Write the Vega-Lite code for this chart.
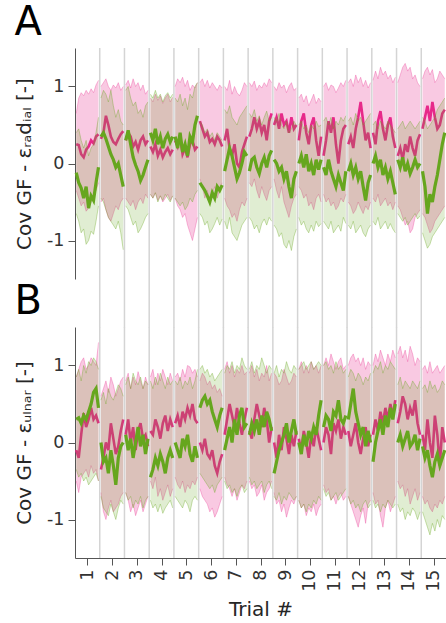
{
"$schema": "https://vega.github.io/schema/vega-lite/v6.json",
"padding": {"left": 14, "top": 3, "right": 0, "bottom": 0},
"config": {
  "font": "DejaVu Sans",
  "view": {"stroke": null},
  "axis": {"grid": false, "domainColor": "#555555", "tickColor": "#555555", "labelColor": "#333333", "titleColor": "#262626", "labelFontSize": 17.5, "titleFontSize": 20, "titleFontWeight": "normal", "tickSize": 7, "labelPadding": 4, "labelOverlap": false},
  "title": {"fontSize": 40, "fontWeight": "normal", "anchor": "start", "frame": "bounds", "color": "#000000", "offset": 0, "baseline": "alphabetic"}
},
"datasets": {
  "seps": [{"b":1.5},{"b":2.5},{"b":3.5},{"b":4.5},{"b":5.5},{"b":6.5},{"b":7.5},{"b":8.5},{"b":9.5},{"b":10.5},{"b":11.5},{"b":12.5},{"b":13.5},{"b":14.5}],
  "d": [
{"p":"A","t":1,"x":0.55,"pm":0.25,"pl":-0.35,"ph":0.65,"gm":-0.12,"gl":-0.65,"gh":0.4},
{"p":"A","t":1,"x":0.65,"pm":0.24,"pl":-0.45,"ph":0.85,"gm":-0.25,"gl":-0.75,"gh":0.45},
{"p":"A","t":1,"x":0.75,"pm":0.12,"pl":-0.55,"ph":0.92,"gm":-0.32,"gl":-0.9,"gh":0.3},
{"p":"A","t":1,"x":0.85,"pm":0.08,"pl":-0.5,"ph":0.88,"gm":-0.45,"gl":-0.85,"gh":0.2},
{"p":"A","t":1,"x":0.95,"pm":0.18,"pl":-0.62,"ph":0.95,"gm":-0.3,"gl":-1.05,"gh":0.3},
{"p":"A","t":1,"x":1.05,"pm":0.22,"pl":-0.58,"ph":0.9,"gm":-0.58,"gl":-1.0,"gh":0.1},
{"p":"A","t":1,"x":1.15,"pm":0.3,"pl":-0.5,"ph":0.97,"gm":-0.42,"gl":-0.88,"gh":0.2},
{"p":"A","t":1,"x":1.25,"pm":0.26,"pl":-0.42,"ph":0.92,"gm":-0.48,"gl":-0.92,"gh":0.25},
{"p":"A","t":1,"x":1.35,"pm":0.35,"pl":-0.35,"ph":1.02,"gm":-0.25,"gl":-0.75,"gh":0.4},
{"p":"A","t":1,"x":1.45,"pm":0.38,"pl":-0.25,"ph":1.08,"gm":-0.05,"gl":-0.55,"gh":0.6},
{"p":"A","t":2,"x":1.55,"pm":0.32,"pl":-0.5,"ph":1.0,"gm":0.35,"gl":-0.45,"gh":0.85},
{"p":"A","t":2,"x":1.65,"pm":0.4,"pl":-0.45,"ph":1.05,"gm":0.4,"gl":-0.5,"gh":0.95},
{"p":"A","t":2,"x":1.75,"pm":0.62,"pl":-0.6,"ph":1.1,"gm":0.32,"gl":-0.6,"gh":0.9},
{"p":"A","t":2,"x":1.85,"pm":0.5,"pl":-0.7,"ph":1.0,"gm":0.22,"gl":-0.7,"gh":0.8},
{"p":"A","t":2,"x":1.95,"pm":0.35,"pl":-0.75,"ph":0.95,"gm":0.12,"gl":-0.75,"gh":0.95},
{"p":"A","t":2,"x":2.05,"pm":0.28,"pl":-0.65,"ph":1.02,"gm":0.05,"gl":-0.8,"gh":0.75},
{"p":"A","t":2,"x":2.15,"pm":0.25,"pl":-0.55,"ph":0.98,"gm":-0.05,"gl":-0.85,"gh":0.6},
{"p":"A","t":2,"x":2.25,"pm":0.32,"pl":-0.6,"ph":1.05,"gm":0.0,"gl":-0.75,"gh":0.7},
{"p":"A","t":2,"x":2.35,"pm":0.38,"pl":-0.5,"ph":0.95,"gm":-0.15,"gl":-0.9,"gh":0.55},
{"p":"A","t":2,"x":2.45,"pm":0.42,"pl":-0.45,"ph":1.0,"gm":-0.3,"gl":-1.12,"gh":0.5},
{"p":"A","t":3,"x":2.55,"pm":0.3,"pl":-0.45,"ph":1.02,"gm":0.3,"gl":-0.55,"gh":0.95},
{"p":"A","t":3,"x":2.65,"pm":0.4,"pl":-0.5,"ph":1.08,"gm":0.43,"gl":-0.6,"gh":1.0},
{"p":"A","t":3,"x":2.75,"pm":0.35,"pl":-0.55,"ph":0.98,"gm":0.25,"gl":-0.7,"gh":0.85},
{"p":"A","t":3,"x":2.85,"pm":0.22,"pl":-0.48,"ph":1.1,"gm":0.08,"gl":-0.8,"gh":0.75},
{"p":"A","t":3,"x":2.95,"pm":0.28,"pl":-0.6,"ph":1.0,"gm":-0.02,"gl":-0.75,"gh":0.8},
{"p":"A","t":3,"x":3.05,"pm":0.18,"pl":-0.5,"ph":1.05,"gm":-0.1,"gl":-0.9,"gh":0.65},
{"p":"A","t":3,"x":3.15,"pm":0.3,"pl":-0.45,"ph":0.95,"gm":-0.22,"gl":-0.85,"gh":0.7},
{"p":"A","t":3,"x":3.25,"pm":0.35,"pl":-0.52,"ph":1.02,"gm":-0.15,"gl":-0.78,"gh":0.6},
{"p":"A","t":3,"x":3.35,"pm":0.25,"pl":-0.4,"ph":0.9,"gm":-0.05,"gl":-0.7,"gh":0.75},
{"p":"A","t":3,"x":3.45,"pm":0.3,"pl":-0.45,"ph":0.95,"gm":0.05,"gl":-0.65,"gh":0.8},
{"p":"A","t":4,"x":3.55,"pm":0.22,"pl":-0.4,"ph":0.85,"gm":0.4,"gl":-0.4,"gh":0.9},
{"p":"A","t":4,"x":3.65,"pm":0.15,"pl":-0.45,"ph":0.8,"gm":0.3,"gl":-0.45,"gh":0.85},
{"p":"A","t":4,"x":3.75,"pm":0.25,"pl":-0.38,"ph":0.9,"gm":0.45,"gl":-0.38,"gh":0.95},
{"p":"A","t":4,"x":3.85,"pm":0.1,"pl":-0.48,"ph":0.82,"gm":0.25,"gl":-0.5,"gh":0.85},
{"p":"A","t":4,"x":3.95,"pm":0.18,"pl":-0.42,"ph":0.88,"gm":0.35,"gl":-0.42,"gh":0.9},
{"p":"A","t":4,"x":4.05,"pm":0.08,"pl":-0.5,"ph":0.78,"gm":0.2,"gl":-0.48,"gh":0.8},
{"p":"A","t":4,"x":4.15,"pm":0.15,"pl":-0.45,"ph":0.85,"gm":0.32,"gl":-0.4,"gh":0.88},
{"p":"A","t":4,"x":4.25,"pm":0.2,"pl":-0.4,"ph":0.9,"gm":0.38,"gl":-0.45,"gh":0.92},
{"p":"A","t":4,"x":4.35,"pm":0.12,"pl":-0.48,"ph":0.8,"gm":0.28,"gl":-0.5,"gh":0.85},
{"p":"A","t":4,"x":4.45,"pm":0.18,"pl":-0.42,"ph":0.86,"gm":0.35,"gl":-0.42,"gh":0.9},
{"p":"A","t":5,"x":4.55,"pm":0.3,"pl":-0.45,"ph":1.0,"gm":0.35,"gl":-0.45,"gh":0.85},
{"p":"A","t":5,"x":4.65,"pm":0.22,"pl":-0.55,"ph":1.1,"gm":0.2,"gl":-0.5,"gh":0.8},
{"p":"A","t":5,"x":4.75,"pm":0.35,"pl":-0.6,"ph":1.05,"gm":0.4,"gl":-0.55,"gh":0.9},
{"p":"A","t":5,"x":4.85,"pm":0.12,"pl":-0.7,"ph":1.12,"gm":0.15,"gl":-0.5,"gh":0.75},
{"p":"A","t":5,"x":4.95,"pm":0.2,"pl":-0.65,"ph":1.0,"gm":0.25,"gl":-0.6,"gh":0.85},
{"p":"A","t":5,"x":5.05,"pm":0.08,"pl":-0.8,"ph":1.08,"gm":0.1,"gl":-0.55,"gh":0.7},
{"p":"A","t":5,"x":5.15,"pm":0.25,"pl":-0.9,"ph":0.95,"gm":0.35,"gl":-0.45,"gh":0.9},
{"p":"A","t":5,"x":5.25,"pm":0.3,"pl":-1.0,"ph":1.02,"gm":0.28,"gl":-0.5,"gh":0.85},
{"p":"A","t":5,"x":5.35,"pm":0.18,"pl":-0.85,"ph":0.98,"gm":0.5,"gl":-0.4,"gh":1.0},
{"p":"A","t":5,"x":5.45,"pm":0.22,"pl":-0.7,"ph":1.05,"gm":0.62,"gl":-0.35,"gh":1.05},
{"p":"A","t":6,"x":5.55,"pm":0.55,"pl":-0.2,"ph":1.05,"gm":-0.25,"gl":-0.65,"gh":0.55},
{"p":"A","t":6,"x":5.65,"pm":0.45,"pl":-0.3,"ph":1.1,"gm":-0.3,"gl":-0.7,"gh":0.5},
{"p":"A","t":6,"x":5.75,"pm":0.35,"pl":-0.45,"ph":1.0,"gm":-0.35,"gl":-0.8,"gh":0.4},
{"p":"A","t":6,"x":5.85,"pm":0.4,"pl":-0.35,"ph":1.08,"gm":-0.42,"gl":-0.75,"gh":0.45},
{"p":"A","t":6,"x":5.95,"pm":0.28,"pl":-0.5,"ph":0.98,"gm":-0.5,"gl":-0.9,"gh":0.35},
{"p":"A","t":6,"x":6.05,"pm":0.32,"pl":-0.4,"ph":1.05,"gm":-0.38,"gl":-0.85,"gh":0.4},
{"p":"A","t":6,"x":6.15,"pm":0.25,"pl":-0.3,"ph":1.0,"gm":-0.45,"gl":-0.78,"gh":0.3},
{"p":"A","t":6,"x":6.25,"pm":0.35,"pl":-0.45,"ph":0.95,"gm":-0.3,"gl":-0.7,"gh":0.4},
{"p":"A","t":6,"x":6.35,"pm":0.3,"pl":-0.35,"ph":1.02,"gm":-0.35,"gl":-0.8,"gh":0.35},
{"p":"A","t":6,"x":6.45,"pm":0.22,"pl":-0.25,"ph":0.98,"gm":-0.28,"gl":-0.72,"gh":0.3},
{"p":"A","t":7,"x":6.55,"pm":0.3,"pl":-0.45,"ph":1.0,"gm":-0.1,"gl":-0.75,"gh":0.7},
{"p":"A","t":7,"x":6.65,"pm":0.45,"pl":-0.55,"ph":0.95,"gm":0.05,"gl":-0.85,"gh":0.65},
{"p":"A","t":7,"x":6.75,"pm":0.2,"pl":-0.6,"ph":1.08,"gm":0.2,"gl":-0.7,"gh":0.75},
{"p":"A","t":7,"x":6.85,"pm":0.1,"pl":-0.7,"ph":0.9,"gm":0.1,"gl":-0.9,"gh":0.6},
{"p":"A","t":7,"x":6.95,"pm":0.25,"pl":-0.65,"ph":1.0,"gm":-0.05,"gl":-0.95,"gh":0.55},
{"p":"A","t":7,"x":7.05,"pm":0.0,"pl":-0.75,"ph":0.92,"gm":-0.2,"gl":-1.0,"gh":0.5},
{"p":"A","t":7,"x":7.15,"pm":-0.05,"pl":-0.6,"ph":0.88,"gm":-0.12,"gl":-0.9,"gh":0.6},
{"p":"A","t":7,"x":7.25,"pm":0.15,"pl":-0.5,"ph":0.95,"gm":0.0,"gl":-0.8,"gh":0.65},
{"p":"A","t":7,"x":7.35,"pm":0.25,"pl":-0.55,"ph":1.05,"gm":0.15,"gl":-0.75,"gh":0.7},
{"p":"A","t":7,"x":7.45,"pm":0.35,"pl":-0.45,"ph":1.0,"gm":0.1,"gl":-0.7,"gh":0.75},
{"p":"A","t":8,"x":7.55,"pm":0.35,"pl":-0.25,"ph":1.05,"gm":-0.1,"gl":-0.7,"gh":0.65},
{"p":"A","t":8,"x":7.65,"pm":0.45,"pl":-0.3,"ph":1.0,"gm":0.05,"gl":-0.75,"gh":0.6},
{"p":"A","t":8,"x":7.75,"pm":0.6,"pl":-0.2,"ph":1.07,"gm":0.08,"gl":-0.85,"gh":0.7},
{"p":"A","t":8,"x":7.85,"pm":0.45,"pl":-0.35,"ph":0.95,"gm":-0.05,"gl":-0.8,"gh":0.55},
{"p":"A","t":8,"x":7.95,"pm":0.55,"pl":-0.45,"ph":1.02,"gm":-0.13,"gl":-0.9,"gh":0.62},
{"p":"A","t":8,"x":8.05,"pm":0.4,"pl":-0.3,"ph":0.98,"gm":0.0,"gl":-0.78,"gh":0.5},
{"p":"A","t":8,"x":8.15,"pm":0.5,"pl":-0.4,"ph":1.05,"gm":0.08,"gl":-0.72,"gh":0.6},
{"p":"A","t":8,"x":8.25,"pm":0.3,"pl":-0.48,"ph":1.0,"gm":-0.05,"gl":-0.8,"gh":0.68},
{"p":"A","t":8,"x":8.35,"pm":0.55,"pl":-0.35,"ph":1.1,"gm":0.1,"gl":-0.7,"gh":0.55},
{"p":"A","t":8,"x":8.45,"pm":0.65,"pl":-0.3,"ph":1.05,"gm":0.17,"gl":-0.75,"gh":0.6},
{"p":"A","t":9,"x":8.55,"pm":0.5,"pl":-0.2,"ph":1.0,"gm":0.05,"gl":-0.8,"gh":0.6},
{"p":"A","t":9,"x":8.65,"pm":0.6,"pl":-0.35,"ph":0.95,"gm":0.0,"gl":-0.85,"gh":0.55},
{"p":"A","t":9,"x":8.75,"pm":0.45,"pl":-0.45,"ph":1.05,"gm":-0.1,"gl":-0.95,"gh":0.65},
{"p":"A","t":9,"x":8.85,"pm":0.65,"pl":-0.3,"ph":0.98,"gm":-0.05,"gl":-0.9,"gh":0.5},
{"p":"A","t":9,"x":8.95,"pm":0.5,"pl":-0.5,"ph":1.02,"gm":-0.2,"gl":-1.05,"gh":0.45},
{"p":"A","t":9,"x":9.05,"pm":0.55,"pl":-0.6,"ph":0.92,"gm":-0.1,"gl":-1.1,"gh":0.55},
{"p":"A","t":9,"x":9.15,"pm":0.4,"pl":-0.7,"ph":1.0,"gm":-0.3,"gl":-1.0,"gh":0.4},
{"p":"A","t":9,"x":9.25,"pm":0.6,"pl":-0.55,"ph":1.05,"gm":-0.45,"gl":-1.13,"gh":0.45},
{"p":"A","t":9,"x":9.35,"pm":0.45,"pl":-0.45,"ph":0.95,"gm":-0.2,"gl":-0.95,"gh":0.55},
{"p":"A","t":9,"x":9.45,"pm":0.5,"pl":-0.4,"ph":0.98,"gm":-0.1,"gl":-0.85,"gh":0.5},
{"p":"A","t":10,"x":9.55,"pm":0.3,"pl":-0.3,"ph":0.85,"gm":0.0,"gl":-0.7,"gh":0.5},
{"p":"A","t":10,"x":9.65,"pm":0.55,"pl":-0.35,"ph":0.9,"gm":0.1,"gl":-0.8,"gh":0.55},
{"p":"A","t":10,"x":9.75,"pm":0.65,"pl":-0.45,"ph":0.8,"gm":-0.05,"gl":-0.75,"gh":0.45},
{"p":"A","t":10,"x":9.85,"pm":0.4,"pl":-0.4,"ph":0.88,"gm":0.12,"gl":-0.85,"gh":0.5},
{"p":"A","t":10,"x":9.95,"pm":0.25,"pl":-0.55,"ph":0.75,"gm":-0.1,"gl":-0.9,"gh":0.4},
{"p":"A","t":10,"x":10.05,"pm":0.5,"pl":-0.5,"ph":0.82,"gm":0.0,"gl":-0.8,"gh":0.5},
{"p":"A","t":10,"x":10.15,"pm":0.6,"pl":-0.6,"ph":0.9,"gm":-0.15,"gl":-0.88,"gh":0.45},
{"p":"A","t":10,"x":10.25,"pm":0.3,"pl":-0.45,"ph":0.78,"gm":0.05,"gl":-0.75,"gh":0.55},
{"p":"A","t":10,"x":10.35,"pm":0.1,"pl":-0.4,"ph":0.85,"gm":-0.08,"gl":-0.82,"gh":0.48},
{"p":"A","t":10,"x":10.45,"pm":0.35,"pl":-0.5,"ph":0.8,"gm":0.05,"gl":-0.78,"gh":0.5},
{"p":"A","t":11,"x":10.55,"pm":0.1,"pl":-0.4,"ph":1.0,"gm":-0.05,"gl":-0.75,"gh":0.55},
{"p":"A","t":11,"x":10.65,"pm":0.3,"pl":-0.5,"ph":1.05,"gm":-0.15,"gl":-0.8,"gh":0.6},
{"p":"A","t":11,"x":10.75,"pm":0.55,"pl":-0.45,"ph":0.95,"gm":0.05,"gl":-0.85,"gh":0.5},
{"p":"A","t":11,"x":10.85,"pm":0.4,"pl":-0.55,"ph":1.02,"gm":-0.1,"gl":-0.75,"gh":0.6},
{"p":"A","t":11,"x":10.95,"pm":0.6,"pl":-0.5,"ph":1.0,"gm":-0.2,"gl":-0.9,"gh":0.45},
{"p":"A","t":11,"x":11.05,"pm":0.25,"pl":-0.6,"ph":0.92,"gm":-0.3,"gl":-0.85,"gh":0.55},
{"p":"A","t":11,"x":11.15,"pm":0.0,"pl":-0.55,"ph":0.98,"gm":-0.15,"gl":-0.8,"gh":0.5},
{"p":"A","t":11,"x":11.25,"pm":0.3,"pl":-0.45,"ph":1.05,"gm":-0.25,"gl":-0.88,"gh":0.6},
{"p":"A","t":11,"x":11.35,"pm":0.45,"pl":-0.5,"ph":1.0,"gm":-0.35,"gl":-0.7,"gh":0.55},
{"p":"A","t":11,"x":11.45,"pm":0.5,"pl":-0.4,"ph":1.08,"gm":-0.1,"gl":-0.78,"gh":0.62},
{"p":"A","t":12,"x":11.55,"pm":0.25,"pl":-0.5,"ph":1.05,"gm":-0.1,"gl":-0.8,"gh":0.55},
{"p":"A","t":12,"x":11.65,"pm":0.35,"pl":-0.55,"ph":1.1,"gm":0.0,"gl":-0.85,"gh":0.6},
{"p":"A","t":12,"x":11.75,"pm":0.2,"pl":-0.65,"ph":1.0,"gm":-0.15,"gl":-0.75,"gh":0.5},
{"p":"A","t":12,"x":11.85,"pm":0.45,"pl":-0.6,"ph":1.15,"gm":-0.05,"gl":-0.9,"gh":0.65},
{"p":"A","t":12,"x":11.95,"pm":0.6,"pl":-0.5,"ph":1.05,"gm":-0.2,"gl":-0.85,"gh":0.55},
{"p":"A","t":12,"x":12.05,"pm":0.8,"pl":-0.58,"ph":1.12,"gm":-0.1,"gl":-0.8,"gh":0.6},
{"p":"A","t":12,"x":12.15,"pm":0.55,"pl":-0.65,"ph":1.0,"gm":-0.3,"gl":-0.9,"gh":0.5},
{"p":"A","t":12,"x":12.25,"pm":0.3,"pl":-0.55,"ph":1.08,"gm":-0.48,"gl":-0.95,"gh":0.55},
{"p":"A","t":12,"x":12.35,"pm":0.4,"pl":-0.6,"ph":0.98,"gm":-0.25,"gl":-0.85,"gh":0.6},
{"p":"A","t":12,"x":12.45,"pm":0.2,"pl":-0.5,"ph":1.05,"gm":-0.15,"gl":-0.8,"gh":0.65},
{"p":"A","t":13,"x":12.55,"pm":0.4,"pl":-0.45,"ph":1.08,"gm":0.0,"gl":-0.75,"gh":0.5},
{"p":"A","t":13,"x":12.65,"pm":0.25,"pl":-0.5,"ph":1.2,"gm":0.1,"gl":-0.8,"gh":0.55},
{"p":"A","t":13,"x":12.75,"pm":0.55,"pl":-0.4,"ph":1.1,"gm":-0.05,"gl":-0.7,"gh":0.45},
{"p":"A","t":13,"x":12.85,"pm":0.68,"pl":-0.55,"ph":1.25,"gm":0.05,"gl":-0.85,"gh":0.55},
{"p":"A","t":13,"x":12.95,"pm":0.45,"pl":-0.5,"ph":1.15,"gm":-0.15,"gl":-0.8,"gh":0.5},
{"p":"A","t":13,"x":13.05,"pm":0.3,"pl":-0.45,"ph":1.2,"gm":-0.05,"gl":-0.75,"gh":0.45},
{"p":"A","t":13,"x":13.15,"pm":0.5,"pl":-0.55,"ph":1.1,"gm":-0.2,"gl":-0.85,"gh":0.55},
{"p":"A","t":13,"x":13.25,"pm":0.6,"pl":-0.5,"ph":1.15,"gm":-0.1,"gl":-0.78,"gh":0.5},
{"p":"A","t":13,"x":13.35,"pm":0.35,"pl":-0.6,"ph":1.05,"gm":-0.25,"gl":-0.85,"gh":0.45},
{"p":"A","t":13,"x":13.45,"pm":0.2,"pl":-0.5,"ph":1.12,"gm":-0.4,"gl":-0.9,"gh":0.4},
{"p":"A","t":14,"x":13.55,"pm":0.1,"pl":-0.55,"ph":1.05,"gm":0.05,"gl":-0.65,"gh":0.45},
{"p":"A","t":14,"x":13.65,"pm":0.2,"pl":-0.6,"ph":1.15,"gm":-0.05,"gl":-0.7,"gh":0.5},
{"p":"A","t":14,"x":13.75,"pm":0.05,"pl":-0.7,"ph":1.25,"gm":0.08,"gl":-0.75,"gh":0.55},
{"p":"A","t":14,"x":13.85,"pm":0.25,"pl":-0.8,"ph":1.3,"gm":-0.1,"gl":-0.7,"gh":0.45},
{"p":"A","t":14,"x":13.95,"pm":0.15,"pl":-0.75,"ph":1.2,"gm":0.0,"gl":-0.8,"gh":0.5},
{"p":"A","t":14,"x":14.05,"pm":0.35,"pl":-0.9,"ph":1.25,"gm":-0.13,"gl":-0.75,"gh":0.55},
{"p":"A","t":14,"x":14.15,"pm":0.2,"pl":-0.85,"ph":1.1,"gm":-0.05,"gl":-0.7,"gh":0.5},
{"p":"A","t":14,"x":14.25,"pm":0.1,"pl":-0.7,"ph":1.15,"gm":0.05,"gl":-0.65,"gh":0.45},
{"p":"A","t":14,"x":14.35,"pm":0.3,"pl":-0.65,"ph":1.05,"gm":-0.05,"gl":-0.72,"gh":0.5},
{"p":"A","t":14,"x":14.45,"pm":0.38,"pl":-0.6,"ph":1.0,"gm":0.0,"gl":-0.68,"gh":0.55},
{"p":"A","t":15,"x":14.55,"pm":0.45,"pl":-0.65,"ph":1.1,"gm":-0.1,"gl":-0.9,"gh":0.6},
{"p":"A","t":15,"x":14.65,"pm":0.6,"pl":-0.7,"ph":1.2,"gm":-0.3,"gl":-1.0,"gh":0.55},
{"p":"A","t":15,"x":14.75,"pm":0.75,"pl":-0.8,"ph":1.25,"gm":-0.65,"gl":-1.1,"gh":0.45},
{"p":"A","t":15,"x":14.85,"pm":0.55,"pl":-0.9,"ph":1.15,"gm":-0.4,"gl":-1.05,"gh":0.5},
{"p":"A","t":15,"x":14.95,"pm":0.8,"pl":-0.85,"ph":1.22,"gm":-0.5,"gl":-0.95,"gh":0.55},
{"p":"A","t":15,"x":15.05,"pm":0.6,"pl":-0.75,"ph":1.05,"gm":-0.3,"gl":-0.9,"gh":0.6},
{"p":"A","t":15,"x":15.15,"pm":0.45,"pl":-0.7,"ph":1.1,"gm":-0.15,"gl":-0.85,"gh":0.7},
{"p":"A","t":15,"x":15.25,"pm":0.5,"pl":-0.65,"ph":1.2,"gm":0.05,"gl":-0.8,"gh":0.75},
{"p":"A","t":15,"x":15.35,"pm":0.65,"pl":-0.6,"ph":1.15,"gm":0.25,"gl":-0.75,"gh":0.8},
{"p":"A","t":15,"x":15.45,"pm":0.7,"pl":-0.55,"ph":1.1,"gm":0.4,"gl":-0.7,"gh":0.85},
{"p":"B","t":1,"x":0.55,"pm":-0.1,"pl":-0.5,"ph":0.85,"gm":0.3,"gl":-0.35,"gh":0.85},
{"p":"B","t":1,"x":0.65,"pm":-0.2,"pl":-0.65,"ph":0.95,"gm":0.32,"gl":-0.45,"gh":0.95},
{"p":"B","t":1,"x":0.75,"pm":0.1,"pl":-0.45,"ph":1.05,"gm":0.25,"gl":-0.4,"gh":0.8},
{"p":"B","t":1,"x":0.85,"pm":0.38,"pl":-0.4,"ph":1.1,"gm":0.35,"gl":-0.5,"gh":1.0},
{"p":"B","t":1,"x":0.95,"pm":0.2,"pl":-0.35,"ph":0.95,"gm":0.3,"gl":-0.45,"gh":0.9},
{"p":"B","t":1,"x":1.05,"pm":0.3,"pl":-0.45,"ph":1.0,"gm":0.4,"gl":-0.55,"gh":1.05},
{"p":"B","t":1,"x":1.15,"pm":0.45,"pl":-0.3,"ph":1.1,"gm":0.5,"gl":-0.5,"gh":1.0},
{"p":"B","t":1,"x":1.25,"pm":0.3,"pl":-0.4,"ph":1.05,"gm":0.65,"gl":-0.45,"gh":1.1},
{"p":"B","t":1,"x":1.35,"pm":0.35,"pl":-0.35,"ph":1.0,"gm":0.7,"gl":-0.4,"gh":1.05},
{"p":"B","t":1,"x":1.45,"pm":0.25,"pl":-0.5,"ph":1.3,"gm":0.45,"gl":-0.5,"gh":0.95},
{"p":"B","t":2,"x":1.55,"pm":-0.35,"pl":-0.65,"ph":0.6,"gm":0.0,"gl":-0.7,"gh":0.55},
{"p":"B","t":2,"x":1.65,"pm":-0.2,"pl":-0.9,"ph":0.7,"gm":-0.25,"gl":-0.85,"gh":0.65},
{"p":"B","t":2,"x":1.75,"pm":0.0,"pl":-1.0,"ph":0.8,"gm":-0.2,"gl":-0.9,"gh":0.5},
{"p":"B","t":2,"x":1.85,"pm":-0.1,"pl":-0.85,"ph":0.65,"gm":-0.4,"gl":-0.95,"gh":0.7},
{"p":"B","t":2,"x":1.95,"pm":0.25,"pl":-0.75,"ph":0.85,"gm":-0.1,"gl":-0.8,"gh":0.6},
{"p":"B","t":2,"x":2.05,"pm":0.05,"pl":-0.9,"ph":0.75,"gm":-0.3,"gl":-0.9,"gh":0.55},
{"p":"B","t":2,"x":2.15,"pm":-0.15,"pl":-0.85,"ph":0.6,"gm":-0.55,"gl":-1.0,"gh":0.65},
{"p":"B","t":2,"x":2.25,"pm":-0.05,"pl":-0.8,"ph":0.7,"gm":-0.2,"gl":-0.85,"gh":0.75},
{"p":"B","t":2,"x":2.35,"pm":0.15,"pl":-0.7,"ph":0.8,"gm":-0.05,"gl":-0.75,"gh":0.7},
{"p":"B","t":2,"x":2.45,"pm":0.3,"pl":-0.65,"ph":0.85,"gm":0.0,"gl":-0.8,"gh":0.6},
{"p":"B","t":3,"x":2.55,"pm":0.1,"pl":-0.65,"ph":0.8,"gm":0.1,"gl":-0.65,"gh":0.75},
{"p":"B","t":3,"x":2.65,"pm":0.3,"pl":-0.75,"ph":0.9,"gm":-0.1,"gl":-0.75,"gh":0.85},
{"p":"B","t":3,"x":2.75,"pm":0.0,"pl":-0.9,"ph":0.7,"gm":0.05,"gl":-0.7,"gh":0.7},
{"p":"B","t":3,"x":2.85,"pm":0.2,"pl":-0.8,"ph":0.85,"gm":-0.2,"gl":-0.85,"gh":0.9},
{"p":"B","t":3,"x":2.95,"pm":-0.1,"pl":-0.95,"ph":0.75,"gm":0.0,"gl":-0.75,"gh":0.8},
{"p":"B","t":3,"x":3.05,"pm":0.15,"pl":-0.85,"ph":0.92,"gm":0.2,"gl":-0.8,"gh":0.75},
{"p":"B","t":3,"x":3.15,"pm":0.25,"pl":-0.75,"ph":0.8,"gm":-0.05,"gl":-0.7,"gh":0.85},
{"p":"B","t":3,"x":3.25,"pm":0.05,"pl":-0.9,"ph":0.7,"gm":0.1,"gl":-0.85,"gh":0.7},
{"p":"B","t":3,"x":3.35,"pm":0.1,"pl":-0.8,"ph":0.85,"gm":-0.15,"gl":-0.75,"gh":0.8},
{"p":"B","t":3,"x":3.45,"pm":-0.05,"pl":-0.7,"ph":0.75,"gm":0.05,"gl":-0.7,"gh":0.75},
{"p":"B","t":4,"x":3.55,"pm":0.15,"pl":-0.5,"ph":0.85,"gm":-0.45,"gl":-0.75,"gh":0.8},
{"p":"B","t":4,"x":3.65,"pm":0.1,"pl":-0.6,"ph":0.95,"gm":-0.35,"gl":-0.85,"gh":0.7},
{"p":"B","t":4,"x":3.75,"pm":0.3,"pl":-0.45,"ph":0.75,"gm":-0.2,"gl":-0.8,"gh":0.85},
{"p":"B","t":4,"x":3.85,"pm":0.2,"pl":-0.7,"ph":0.9,"gm":-0.3,"gl":-0.9,"gh":0.75},
{"p":"B","t":4,"x":3.95,"pm":0.05,"pl":-0.6,"ph":0.8,"gm":-0.15,"gl":-0.8,"gh":0.9},
{"p":"B","t":4,"x":4.05,"pm":0.25,"pl":-0.75,"ph":0.95,"gm":-0.25,"gl":-0.92,"gh":0.8},
{"p":"B","t":4,"x":4.15,"pm":0.35,"pl":-0.65,"ph":0.85,"gm":-0.4,"gl":-0.85,"gh":0.7},
{"p":"B","t":4,"x":4.25,"pm":0.15,"pl":-0.55,"ph":0.75,"gm":-0.2,"gl":-0.8,"gh":0.85},
{"p":"B","t":4,"x":4.35,"pm":0.3,"pl":-0.7,"ph":0.9,"gm":-0.1,"gl":-0.75,"gh":0.75},
{"p":"B","t":4,"x":4.45,"pm":0.2,"pl":-0.6,"ph":0.8,"gm":-0.2,"gl":-0.85,"gh":0.8},
{"p":"B","t":5,"x":4.55,"pm":0.25,"pl":-0.45,"ph":0.85,"gm":0.0,"gl":-0.7,"gh":0.8},
{"p":"B","t":5,"x":4.65,"pm":0.35,"pl":-0.55,"ph":0.9,"gm":-0.1,"gl":-0.75,"gh":0.75},
{"p":"B","t":5,"x":4.75,"pm":0.2,"pl":-0.6,"ph":0.8,"gm":-0.2,"gl":-0.8,"gh":0.85},
{"p":"B","t":5,"x":4.85,"pm":0.4,"pl":-0.5,"ph":0.95,"gm":0.05,"gl":-0.85,"gh":0.7},
{"p":"B","t":5,"x":4.95,"pm":0.3,"pl":-0.65,"ph":0.85,"gm":-0.05,"gl":-0.75,"gh":0.8},
{"p":"B","t":5,"x":5.05,"pm":0.45,"pl":-0.55,"ph":1.0,"gm":0.1,"gl":-0.8,"gh":0.75},
{"p":"B","t":5,"x":5.15,"pm":0.35,"pl":-0.6,"ph":0.98,"gm":-0.15,"gl":-0.9,"gh":0.85},
{"p":"B","t":5,"x":5.25,"pm":0.5,"pl":-0.5,"ph":0.9,"gm":-0.25,"gl":-0.75,"gh":0.7},
{"p":"B","t":5,"x":5.35,"pm":0.3,"pl":-0.55,"ph":0.95,"gm":-0.05,"gl":-0.7,"gh":0.8},
{"p":"B","t":5,"x":5.45,"pm":0.25,"pl":-0.45,"ph":0.85,"gm":-0.2,"gl":-0.75,"gh":0.95},
{"p":"B","t":6,"x":5.55,"pm":0.0,"pl":-0.6,"ph":0.8,"gm":0.45,"gl":-0.4,"gh":0.95},
{"p":"B","t":6,"x":5.65,"pm":-0.1,"pl":-0.7,"ph":0.9,"gm":0.55,"gl":-0.45,"gh":1.0},
{"p":"B","t":6,"x":5.75,"pm":0.05,"pl":-0.75,"ph":0.85,"gm":0.6,"gl":-0.5,"gh":0.9},
{"p":"B","t":6,"x":5.85,"pm":-0.15,"pl":-0.8,"ph":0.75,"gm":0.5,"gl":-0.55,"gh":0.95},
{"p":"B","t":6,"x":5.95,"pm":-0.2,"pl":-0.9,"ph":0.8,"gm":0.55,"gl":-0.6,"gh":0.85},
{"p":"B","t":6,"x":6.05,"pm":-0.1,"pl":-0.85,"ph":0.7,"gm":0.4,"gl":-0.55,"gh":0.9},
{"p":"B","t":6,"x":6.15,"pm":-0.3,"pl":-0.97,"ph":0.75,"gm":0.3,"gl":-0.65,"gh":0.8},
{"p":"B","t":6,"x":6.25,"pm":-0.4,"pl":-0.9,"ph":0.65,"gm":0.2,"gl":-0.55,"gh":0.85},
{"p":"B","t":6,"x":6.35,"pm":-0.25,"pl":-0.8,"ph":0.7,"gm":0.35,"gl":-0.5,"gh":0.9},
{"p":"B","t":6,"x":6.45,"pm":-0.15,"pl":-0.7,"ph":0.6,"gm":0.45,"gl":-0.45,"gh":0.95},
{"p":"B","t":7,"x":6.55,"pm":0.1,"pl":-0.45,"ph":0.95,"gm":-0.1,"gl":-0.5,"gh":0.9},
{"p":"B","t":7,"x":6.65,"pm":0.3,"pl":-0.55,"ph":1.05,"gm":0.05,"gl":-0.6,"gh":1.0},
{"p":"B","t":7,"x":6.75,"pm":0.5,"pl":-0.6,"ph":0.9,"gm":0.2,"gl":-0.55,"gh":0.95},
{"p":"B","t":7,"x":6.85,"pm":0.35,"pl":-0.7,"ph":1.0,"gm":0.0,"gl":-0.65,"gh":1.05},
{"p":"B","t":7,"x":6.95,"pm":0.2,"pl":-0.6,"ph":0.85,"gm":0.3,"gl":-0.6,"gh":0.9},
{"p":"B","t":7,"x":7.05,"pm":0.45,"pl":-0.75,"ph":0.95,"gm":0.1,"gl":-0.7,"gh":1.0},
{"p":"B","t":7,"x":7.15,"pm":0.25,"pl":-0.65,"ph":0.9,"gm":0.35,"gl":-0.6,"gh":0.95},
{"p":"B","t":7,"x":7.25,"pm":0.1,"pl":-0.55,"ph":1.0,"gm":0.45,"gl":-0.55,"gh":1.1},
{"p":"B","t":7,"x":7.35,"pm":0.3,"pl":-0.6,"ph":0.88,"gm":0.2,"gl":-0.65,"gh":1.0},
{"p":"B","t":7,"x":7.45,"pm":0.45,"pl":-0.5,"ph":0.92,"gm":0.25,"gl":-0.6,"gh":0.95},
{"p":"B","t":8,"x":7.55,"pm":0.15,"pl":-0.5,"ph":0.9,"gm":0.1,"gl":-0.45,"gh":0.95},
{"p":"B","t":8,"x":7.65,"pm":0.05,"pl":-0.6,"ph":1.0,"gm":0.25,"gl":-0.55,"gh":1.05},
{"p":"B","t":8,"x":7.75,"pm":0.3,"pl":-0.55,"ph":0.85,"gm":0.15,"gl":-0.5,"gh":0.9},
{"p":"B","t":8,"x":7.85,"pm":0.5,"pl":-0.7,"ph":0.95,"gm":0.3,"gl":-0.6,"gh":1.0},
{"p":"B","t":8,"x":7.95,"pm":0.35,"pl":-0.65,"ph":0.8,"gm":0.1,"gl":-0.55,"gh":0.95},
{"p":"B","t":8,"x":8.05,"pm":0.2,"pl":-0.55,"ph":0.9,"gm":0.35,"gl":-0.5,"gh":1.1},
{"p":"B","t":8,"x":8.15,"pm":0.45,"pl":-0.75,"ph":0.85,"gm":0.2,"gl":-0.65,"gh":1.0},
{"p":"B","t":8,"x":8.25,"pm":0.3,"pl":-0.65,"ph":1.0,"gm":0.4,"gl":-0.55,"gh":0.9},
{"p":"B","t":8,"x":8.35,"pm":0.0,"pl":-0.6,"ph":0.8,"gm":0.3,"gl":-0.5,"gh":1.0},
{"p":"B","t":8,"x":8.45,"pm":0.2,"pl":-0.5,"ph":0.9,"gm":0.15,"gl":-0.6,"gh":0.95},
{"p":"B","t":9,"x":8.55,"pm":0.0,"pl":-0.65,"ph":0.9,"gm":-0.4,"gl":-0.7,"gh":0.9},
{"p":"B","t":9,"x":8.65,"pm":-0.2,"pl":-0.8,"ph":0.85,"gm":-0.25,"gl":-0.75,"gh":1.0},
{"p":"B","t":9,"x":8.75,"pm":0.1,"pl":-0.75,"ph":0.75,"gm":-0.1,"gl":-0.65,"gh":0.85},
{"p":"B","t":9,"x":8.85,"pm":-0.1,"pl":-0.9,"ph":0.8,"gm":0.0,"gl":-0.8,"gh":0.95},
{"p":"B","t":9,"x":8.95,"pm":0.2,"pl":-0.8,"ph":0.95,"gm":0.1,"gl":-0.7,"gh":0.9},
{"p":"B","t":9,"x":9.05,"pm":0.05,"pl":-0.97,"ph":0.85,"gm":0.25,"gl":-0.75,"gh":1.05},
{"p":"B","t":9,"x":9.15,"pm":-0.15,"pl":-0.85,"ph":0.75,"gm":0.0,"gl":-0.65,"gh":0.95},
{"p":"B","t":9,"x":9.25,"pm":0.1,"pl":-0.75,"ph":0.8,"gm":0.15,"gl":-0.7,"gh":0.9},
{"p":"B","t":9,"x":9.35,"pm":-0.05,"pl":-0.8,"ph":0.9,"gm":0.3,"gl":-0.75,"gh":1.0},
{"p":"B","t":9,"x":9.45,"pm":0.15,"pl":-0.7,"ph":0.85,"gm":0.1,"gl":-0.7,"gh":0.95},
{"p":"B","t":10,"x":9.55,"pm":0.05,"pl":-0.75,"ph":0.95,"gm":0.0,"gl":-0.75,"gh":0.95},
{"p":"B","t":10,"x":9.65,"pm":-0.1,"pl":-0.85,"ph":1.05,"gm":-0.15,"gl":-0.85,"gh":1.0},
{"p":"B","t":10,"x":9.75,"pm":0.15,"pl":-0.8,"ph":0.9,"gm":0.1,"gl":-0.8,"gh":1.05},
{"p":"B","t":10,"x":9.85,"pm":0.0,"pl":-0.95,"ph":1.0,"gm":-0.05,"gl":-0.9,"gh":0.95},
{"p":"B","t":10,"x":9.95,"pm":-0.2,"pl":-0.85,"ph":0.9,"gm":0.15,"gl":-0.8,"gh":1.0},
{"p":"B","t":10,"x":10.05,"pm":0.1,"pl":-0.9,"ph":1.05,"gm":0.05,"gl":-0.85,"gh":1.05},
{"p":"B","t":10,"x":10.15,"pm":-0.05,"pl":-0.8,"ph":0.95,"gm":0.2,"gl":-0.75,"gh":0.95},
{"p":"B","t":10,"x":10.25,"pm":0.2,"pl":-0.95,"ph":1.0,"gm":0.1,"gl":-0.8,"gh":1.0},
{"p":"B","t":10,"x":10.35,"pm":0.05,"pl":-0.85,"ph":0.9,"gm":0.35,"gl":-0.7,"gh":1.05},
{"p":"B","t":10,"x":10.45,"pm":-0.1,"pl":-0.8,"ph":1.0,"gm":0.55,"gl":-0.75,"gh":1.0},
{"p":"B","t":11,"x":10.55,"pm":0.0,"pl":-0.55,"ph":1.0,"gm":0.2,"gl":-0.6,"gh":1.0},
{"p":"B","t":11,"x":10.65,"pm":0.2,"pl":-0.65,"ph":1.1,"gm":0.35,"gl":-0.7,"gh":1.05},
{"p":"B","t":11,"x":10.75,"pm":0.1,"pl":-0.6,"ph":1.0,"gm":0.3,"gl":-0.65,"gh":0.95},
{"p":"B","t":11,"x":10.85,"pm":-0.15,"pl":-0.75,"ph":1.15,"gm":0.15,"gl":-0.75,"gh":1.0},
{"p":"B","t":11,"x":10.95,"pm":0.25,"pl":-0.7,"ph":1.05,"gm":0.4,"gl":-0.7,"gh":0.9},
{"p":"B","t":11,"x":11.05,"pm":0.15,"pl":-0.8,"ph":0.95,"gm":0.35,"gl":-0.65,"gh":1.05},
{"p":"B","t":11,"x":11.15,"pm":0.3,"pl":-0.7,"ph":1.05,"gm":0.55,"gl":-0.75,"gh":0.95},
{"p":"B","t":11,"x":11.25,"pm":0.05,"pl":-0.65,"ph":1.1,"gm":0.3,"gl":-0.7,"gh":1.0},
{"p":"B","t":11,"x":11.35,"pm":0.2,"pl":-0.75,"ph":0.95,"gm":0.25,"gl":-0.65,"gh":0.9},
{"p":"B","t":11,"x":11.45,"pm":0.1,"pl":-0.7,"ph":1.0,"gm":0.35,"gl":-0.6,"gh":0.95},
{"p":"B","t":12,"x":11.55,"pm":0.15,"pl":-0.7,"ph":1.0,"gm":0.3,"gl":-0.7,"gh":0.85},
{"p":"B","t":12,"x":11.65,"pm":-0.05,"pl":-0.8,"ph":1.1,"gm":0.5,"gl":-0.8,"gh":0.95},
{"p":"B","t":12,"x":11.75,"pm":0.1,"pl":-0.9,"ph":1.15,"gm":0.7,"gl":-0.75,"gh":0.9},
{"p":"B","t":12,"x":11.85,"pm":0.25,"pl":-1.0,"ph":1.05,"gm":0.4,"gl":-0.85,"gh":0.8},
{"p":"B","t":12,"x":11.95,"pm":0.0,"pl":-1.1,"ph":1.1,"gm":0.25,"gl":-0.8,"gh":0.9},
{"p":"B","t":12,"x":12.05,"pm":-0.15,"pl":-0.95,"ph":1.0,"gm":0.1,"gl":-0.9,"gh":0.85},
{"p":"B","t":12,"x":12.15,"pm":0.05,"pl":-0.85,"ph":1.1,"gm":0.2,"gl":-0.8,"gh":0.75},
{"p":"B","t":12,"x":12.25,"pm":0.2,"pl":-1.05,"ph":0.95,"gm":-0.05,"gl":-0.75,"gh":0.85},
{"p":"B","t":12,"x":12.35,"pm":-0.05,"pl":-0.8,"ph":1.05,"gm":0.15,"gl":-0.85,"gh":0.8},
{"p":"B","t":12,"x":12.45,"pm":0.1,"pl":-0.75,"ph":1.0,"gm":0.0,"gl":-0.8,"gh":0.9},
{"p":"B","t":13,"x":12.55,"pm":0.1,"pl":-0.65,"ph":1.0,"gm":-0.25,"gl":-0.75,"gh":0.9},
{"p":"B","t":13,"x":12.65,"pm":0.3,"pl":-0.8,"ph":1.15,"gm":0.0,"gl":-0.85,"gh":1.0},
{"p":"B","t":13,"x":12.75,"pm":0.15,"pl":-0.75,"ph":1.05,"gm":0.15,"gl":-0.8,"gh":0.95},
{"p":"B","t":13,"x":12.85,"pm":0.4,"pl":-0.95,"ph":1.2,"gm":0.3,"gl":-0.9,"gh":1.05},
{"p":"B","t":13,"x":12.95,"pm":0.25,"pl":-1.1,"ph":1.1,"gm":0.1,"gl":-0.8,"gh":0.9},
{"p":"B","t":13,"x":13.05,"pm":0.45,"pl":-0.85,"ph":1.0,"gm":0.35,"gl":-0.85,"gh":1.0},
{"p":"B","t":13,"x":13.15,"pm":0.3,"pl":-0.75,"ph":1.15,"gm":0.2,"gl":-0.75,"gh":0.95},
{"p":"B","t":13,"x":13.25,"pm":0.5,"pl":-0.9,"ph":1.05,"gm":0.45,"gl":-0.8,"gh":1.05},
{"p":"B","t":13,"x":13.35,"pm":0.35,"pl":-0.8,"ph":1.2,"gm":0.3,"gl":-0.85,"gh":1.0},
{"p":"B","t":13,"x":13.45,"pm":0.55,"pl":-0.7,"ph":1.1,"gm":0.5,"gl":-0.8,"gh":0.95},
{"p":"B","t":14,"x":13.55,"pm":0.25,"pl":-0.5,"ph":1.15,"gm":0.0,"gl":-0.8,"gh":0.75},
{"p":"B","t":14,"x":13.65,"pm":0.4,"pl":-0.6,"ph":1.25,"gm":0.1,"gl":-0.9,"gh":0.85},
{"p":"B","t":14,"x":13.75,"pm":0.6,"pl":-0.55,"ph":1.1,"gm":-0.05,"gl":-0.85,"gh":0.7},
{"p":"B","t":14,"x":13.85,"pm":0.5,"pl":-0.7,"ph":1.2,"gm":0.05,"gl":-1.0,"gh":0.8},
{"p":"B","t":14,"x":13.95,"pm":0.3,"pl":-0.6,"ph":1.05,"gm":0.15,"gl":-0.9,"gh":0.75},
{"p":"B","t":14,"x":14.05,"pm":0.45,"pl":-0.8,"ph":1.25,"gm":-0.05,"gl":-0.95,"gh":0.7},
{"p":"B","t":14,"x":14.15,"pm":0.35,"pl":-0.7,"ph":1.15,"gm":0.0,"gl":-0.85,"gh":0.8},
{"p":"B","t":14,"x":14.25,"pm":0.55,"pl":-0.6,"ph":1.0,"gm":0.1,"gl":-0.9,"gh":0.75},
{"p":"B","t":14,"x":14.35,"pm":0.25,"pl":-0.75,"ph":1.1,"gm":-0.1,"gl":-1.0,"gh":0.7},
{"p":"B","t":14,"x":14.45,"pm":0.1,"pl":-0.65,"ph":1.05,"gm":0.05,"gl":-0.9,"gh":0.8},
{"p":"B","t":15,"x":14.55,"pm":0.1,"pl":-0.7,"ph":0.95,"gm":-0.05,"gl":-0.9,"gh":0.7},
{"p":"B","t":15,"x":14.65,"pm":-0.1,"pl":-0.8,"ph":1.0,"gm":-0.2,"gl":-1.0,"gh":0.75},
{"p":"B","t":15,"x":14.75,"pm":0.3,"pl":-0.75,"ph":0.9,"gm":-0.1,"gl":-1.1,"gh":0.65},
{"p":"B","t":15,"x":14.85,"pm":0.0,"pl":-0.85,"ph":1.05,"gm":-0.3,"gl":-1.2,"gh":0.8},
{"p":"B","t":15,"x":14.95,"pm":-0.2,"pl":-0.9,"ph":0.9,"gm":-0.45,"gl":-1.05,"gh":0.7},
{"p":"B","t":15,"x":15.05,"pm":0.35,"pl":-0.8,"ph":0.95,"gm":-0.25,"gl":-1.15,"gh":0.75},
{"p":"B","t":15,"x":15.15,"pm":0.1,"pl":-0.85,"ph":1.0,"gm":-0.15,"gl":-1.0,"gh":0.65},
{"p":"B","t":15,"x":15.25,"pm":-0.3,"pl":-0.75,"ph":0.9,"gm":-0.3,"gl":-1.1,"gh":0.7},
{"p":"B","t":15,"x":15.35,"pm":0.2,"pl":-0.8,"ph":0.95,"gm":-0.2,"gl":-0.95,"gh":0.8},
{"p":"B","t":15,"x":15.45,"pm":0.0,"pl":-0.7,"ph":1.0,"gm":-0.1,"gl":-1.0,"gh":0.75}
  ]
},
"bounds": "flush",
"spacing": 48,
"vconcat": [
 {
  "title": {"text": "A"},
  "width": 371, "height": 231,
  "layer": [
   {"data": {"name": "seps"}, "mark": {"type": "rule", "color": "#d4d4d4", "strokeWidth": 1.5},
    "encoding": {"x": {"field": "b", "type": "quantitative", "scale": {"domain": [0.5, 15.5], "nice": false, "zero": false}, "axis": null},
                 "y": {"datum": 1.5, "type": "quantitative", "scale": {"domain": [-1.5, 1.5], "nice": false, "zero": false}},
                 "y2": {"datum": -2.13}}},
   {"data": {"name": "d"},
    "transform": [{"filter": "datum.p == 'A'"}],
    "encoding": {"x": {"field": "x", "type": "quantitative", "scale": {"domain": [0.5, 15.5], "nice": false, "zero": false}, "axis": null},
                 "detail": {"field": "t", "type": "nominal"}},
    "layer": [
     {"mark": {"type": "area", "color": "#e7298a", "opacity": 0.25}, "encoding": {"y": {"field": "pl", "type": "quantitative", "scale": {"domain": [-1.5, 1.5], "nice": false, "zero": false}, "axis": {"values": [-1, 0, 1], "labelExpr": "'' + datum.value", "title": "Cov GF - εᵣₐdᵢₐₗ [-]", "titlePadding": 12}}, "y2": {"field": "ph"}}},
     {"mark": {"type": "line", "color": "#e7298a", "opacity": 0.3, "strokeWidth": 1}, "encoding": {"y": {"field": "ph", "type": "quantitative"}}},
     {"mark": {"type": "line", "color": "#e7298a", "opacity": 0.3, "strokeWidth": 1}, "encoding": {"y": {"field": "pl", "type": "quantitative"}}},
     {"mark": {"type": "line", "color": "#e7298a", "strokeWidth": 2.6}, "encoding": {"y": {"field": "pm", "type": "quantitative"}}},
     {"mark": {"type": "area", "color": "#66a61e", "opacity": 0.2}, "encoding": {"y": {"field": "gl", "type": "quantitative"}, "y2": {"field": "gh"}}},
     {"mark": {"type": "line", "color": "#66a61e", "opacity": 0.35, "strokeWidth": 1}, "encoding": {"y": {"field": "gh", "type": "quantitative"}}},
     {"mark": {"type": "line", "color": "#66a61e", "opacity": 0.35, "strokeWidth": 1}, "encoding": {"y": {"field": "gl", "type": "quantitative"}}},
     {"mark": {"type": "line", "color": "#66a61e", "strokeWidth": 3.2}, "encoding": {"y": {"field": "gm", "type": "quantitative"}}}
    ]
   }
  ]
 },
 {
  "title": {"text": "B"},
  "width": 371, "height": 231,
  "layer": [
   {"data": {"name": "seps"}, "mark": {"type": "rule", "color": "#d4d4d4", "strokeWidth": 1.5},
    "encoding": {"x": {"field": "b", "type": "quantitative", "scale": {"domain": [0.5, 15.5], "nice": false, "zero": false}, "axis": {"values": [1,2,3,4,5,6,7,8,9,10,11,12,13,14,15], "labelAngle": -90, "labelOverlap": false, "labelFlush": false, "labelBound": false, "title": "Trial #", "titlePadding": 8}},
                 "y": {"datum": 1.5, "type": "quantitative", "scale": {"domain": [-1.5, 1.5], "nice": false, "zero": false}},
                 "y2": {"datum": -1.5}}},
   {"data": {"name": "d"},
    "transform": [{"filter": "datum.p == 'B'"}],
    "encoding": {"x": {"field": "x", "type": "quantitative", "scale": {"domain": [0.5, 15.5], "nice": false, "zero": false}, "axis": {"values": [1,2,3,4,5,6,7,8,9,10,11,12,13,14,15], "labelAngle": -90, "labelOverlap": false, "labelFlush": false, "labelBound": false, "title": "Trial #", "titlePadding": 8}},
                 "detail": {"field": "t", "type": "nominal"}},
    "layer": [
     {"mark": {"type": "area", "color": "#e7298a", "opacity": 0.25}, "encoding": {"y": {"field": "pl", "type": "quantitative", "scale": {"domain": [-1.5, 1.5], "nice": false, "zero": false}, "axis": {"values": [-1, 0, 1], "labelExpr": "'' + datum.value", "title": "Cov GF - εᵤₗₙₐᵣ [-]", "titlePadding": 12}}, "y2": {"field": "ph"}}},
     {"mark": {"type": "line", "color": "#e7298a", "opacity": 0.3, "strokeWidth": 1}, "encoding": {"y": {"field": "ph", "type": "quantitative"}}},
     {"mark": {"type": "line", "color": "#e7298a", "opacity": 0.3, "strokeWidth": 1}, "encoding": {"y": {"field": "pl", "type": "quantitative"}}},
     {"mark": {"type": "line", "color": "#e7298a", "strokeWidth": 2.6}, "encoding": {"y": {"field": "pm", "type": "quantitative"}}},
     {"mark": {"type": "area", "color": "#66a61e", "opacity": 0.2}, "encoding": {"y": {"field": "gl", "type": "quantitative"}, "y2": {"field": "gh"}}},
     {"mark": {"type": "line", "color": "#66a61e", "opacity": 0.35, "strokeWidth": 1}, "encoding": {"y": {"field": "gh", "type": "quantitative"}}},
     {"mark": {"type": "line", "color": "#66a61e", "opacity": 0.35, "strokeWidth": 1}, "encoding": {"y": {"field": "gl", "type": "quantitative"}}},
     {"mark": {"type": "line", "color": "#66a61e", "strokeWidth": 3.2}, "encoding": {"y": {"field": "gm", "type": "quantitative"}}}
    ]
   }
  ]
 }
]
}
